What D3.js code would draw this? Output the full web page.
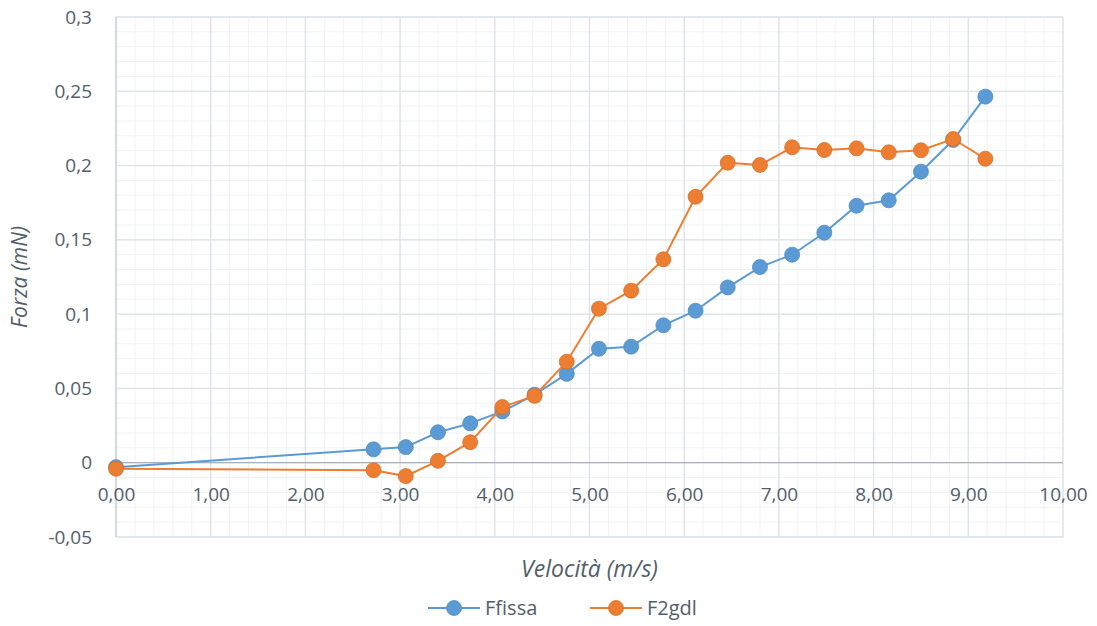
<!DOCTYPE html>
<html>
<head>
<meta charset="utf-8">
<script src="https://cdn.jsdelivr.net/npm/d3@7"></script>
<style>
  body { margin: 0; background: #fff; }
  svg text { font-family: "Open Sans", "Noto Sans", sans-serif; fill: #525e6c; }
</style>
</head>
<body>
<svg id="chart" width="1097" height="626"></svg>
<script>
const velocita = [0, 2.72, 3.06, 3.40, 3.74, 4.08, 4.42, 4.76, 5.10, 5.44, 5.78, 6.12, 6.46, 6.80, 7.14, 7.48, 7.82, 8.16, 8.50, 8.84, 9.18];
const ffissa = [-0.003, 0.009, 0.0105, 0.0205, 0.0265, 0.0345, 0.0458, 0.0598, 0.0767, 0.0781, 0.0925, 0.1023, 0.118, 0.1317, 0.140, 0.1548, 0.173, 0.1766, 0.1959, 0.2172, 0.2464];
const f2gdl = [-0.004, -0.005, -0.009, 0.0013, 0.0138, 0.0375, 0.045, 0.068, 0.1037, 0.1158, 0.1369, 0.179, 0.2019, 0.2004, 0.2123, 0.2105, 0.2116, 0.2089, 0.2103, 0.2179, 0.2046];
const xTicks = [0, 1, 2, 3, 4, 5, 6, 7, 8, 9, 10];
const yTicks = [-0.05, 0, 0.05, 0.1, 0.15, 0.2, 0.25, 0.3];
const series = [
  { name: 'Ffissa', values: ffissa, color: '#5B9BD5' },
  { name: 'F2gdl', values: f2gdl, color: '#ED7D31' }
];

const svg = d3.select('#chart');
const margin = { top: 17, right: 34, bottom: 89, left: 116 };
const width = 1097, height = 626;
const innerWidth = width - margin.left - margin.right;
const innerHeight = height - margin.top - margin.bottom;

const x = d3.scaleLinear().domain([0, 10]).range([0, innerWidth]);
const y = d3.scaleLinear().domain([-0.05, 0.3]).range([innerHeight, 0]);

const g = svg.append('g').attr('transform', `translate(${margin.left},${margin.top})`);

// minor grid
const xMinor = d3.range(0, 10.001, 0.2);
const yMinor = d3.range(-0.05, 0.3001, 0.01);
g.append('g').selectAll('line').data(xMinor).enter().append('line')
  .attr('x1', d => x(d)).attr('x2', d => x(d)).attr('y1', 0).attr('y2', innerHeight)
  .attr('stroke', '#f0f2f5').attr('stroke-width', 1);
g.append('g').selectAll('line').data(yMinor).enter().append('line')
  .attr('y1', d => y(d)).attr('y2', d => y(d)).attr('x1', 0).attr('x2', innerWidth)
  .attr('stroke', '#f0f2f5').attr('stroke-width', 1);

// major grid
g.append('g').selectAll('line').data(xTicks).enter().append('line')
  .attr('x1', d => x(d)).attr('x2', d => x(d)).attr('y1', 0).attr('y2', innerHeight)
  .attr('stroke', '#dde2ea').attr('stroke-width', 1.3);
g.append('g').selectAll('line').data(yTicks).enter().append('line')
  .attr('y1', d => y(d)).attr('y2', d => y(d)).attr('x1', 0).attr('x2', innerWidth)
  .attr('stroke', '#dde2ea').attr('stroke-width', 1.3);

// axis lines
g.append('line').attr('x1', 0).attr('x2', 0).attr('y1', 0).attr('y2', innerHeight)
  .attr('stroke', '#c9d1dd').attr('stroke-width', 1.3);
g.append('line').attr('x1', 0).attr('x2', innerWidth).attr('y1', y(0)).attr('y2', y(0))
  .attr('stroke', '#a9b1bf').attr('stroke-width', 1.3);

const fmtX = d => d3.format('.2f')(d).replace('.', ',');
const fmtY = d => String(+d.toFixed(2)).replace('.', ',');

// x tick labels (below the zero line)
g.append('g').attr('transform', `translate(0,${y(0)})`)
  .call(d3.axisBottom(x).tickValues(xTicks).tickFormat(fmtX).tickSize(0).tickPadding(25))
  .call(a => a.select('.domain').remove())
  .call(a => a.selectAll('text').attr('font-size', 19).style('fill', '#525e6c'));

// y tick labels
g.append('g')
  .call(d3.axisLeft(y).tickValues(yTicks).tickFormat(fmtY).tickSize(0).tickPadding(24))
  .call(a => a.select('.domain').remove())
  .call(a => a.selectAll('text').attr('font-size', 19).style('fill', '#525e6c'));

// series
const line = d3.line().x((d, i) => x(velocita[i])).y(d => y(d));
series.forEach(s => {
  g.append('path').datum(s.values)
    .attr('d', line).attr('fill', 'none')
    .attr('stroke', s.color).attr('stroke-width', 2);
  g.append('g').selectAll('circle').data(s.values).enter().append('circle')
    .attr('cx', (d, i) => x(velocita[i])).attr('cy', d => y(d)).attr('r', 7.5)
    .attr('fill', s.color)
    .attr('stroke', d3.color(s.color).darker(0.3)).attr('stroke-width', 0.8);
});

// axis titles
svg.append('text')
  .attr('x', margin.left + x(5)).attr('y', 577)
  .attr('text-anchor', 'middle').attr('font-size', 23).attr('font-style', 'italic')
  .text('Velocità (m/s)');
svg.append('text')
  .attr('transform', `translate(27,${margin.top + y(0.125)}) rotate(-90)`)
  .attr('text-anchor', 'middle').attr('font-size', 21).attr('font-style', 'italic')
  .text('Forza (mN)');

// legend
const legendX = [428, 590];
series.forEach((s, i) => {
  const lg = svg.append('g').attr('transform', `translate(${legendX[i]},608)`);
  lg.append('line').attr('x1', 0).attr('x2', 52).attr('y1', 0).attr('y2', 0)
    .attr('stroke', s.color).attr('stroke-width', 2);
  lg.append('circle').attr('cx', 26).attr('cy', 0).attr('r', 7.5).attr('fill', s.color)
    .attr('stroke', d3.color(s.color).darker(0.3)).attr('stroke-width', 0.8);
  lg.append('text').attr('x', 57).attr('y', 7).attr('font-size', 20).text(s.name);
});
</script>
</body>
</html>
